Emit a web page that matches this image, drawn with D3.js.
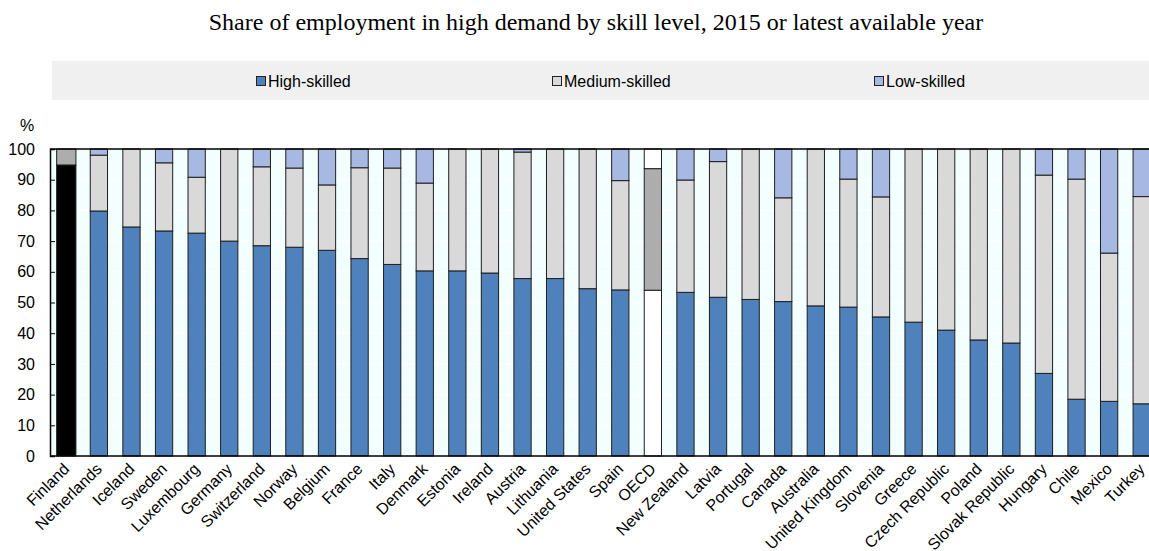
<!DOCTYPE html>
<html>
<head>
<meta charset="utf-8">
<title>Share of employment in high demand by skill level</title>
<script src="https://d3js.org/d3.v7.min.js"></script>
<style>
  body { margin: 0; background: #fff; }
  text { font-family: "Liberation Sans", Arial, sans-serif; }
</style>
</head>
<body>
<svg width="1149" height="551"></svg>
<script>
    const countries = ["Finland", "Netherlands", "Iceland", "Sweden", "Luxembourg", "Germany", "Switzerland",
        "Norway", "Belgium", "France", "Italy", "Denmark", "Estonia", "Ireland", "Austria", "Lithuania",
        "United States", "Spain", "OECD", "New Zealand", "Latvia", "Portugal", "Canada", "Australia",
        "United Kingdom", "Slovenia", "Greece", "Czech Republic", "Poland", "Slovak Republic", "Hungary",
        "Chile", "Mexico", "Turkey"];
    const highSkilled = [94.8, 79.8, 74.6, 73.3, 72.6, 70.0, 68.5, 68.0, 67.0, 64.3, 62.4, 60.3, 60.3, 59.6,
        57.8, 57.8, 54.5, 54.1, 54.0, 53.3, 51.7, 51.0, 50.3, 48.9, 48.5, 45.3, 43.6, 41.0, 37.8, 36.8,
        26.9, 18.5, 17.8, 17.0];
    const mediumSkilled = [5.2, 18.2, 25.4, 22.2, 18.2, 30.0, 25.7, 25.8, 21.3, 29.6, 31.4, 28.6, 39.7, 40.4,
        41.2, 42.2, 45.5, 35.6, 39.6, 36.6, 44.2, 49.0, 33.8, 51.1, 41.7, 39.1, 56.4, 59.0, 62.2, 63.2,
        64.6, 71.7, 48.3, 67.5];
    const lowSkilled = [0, 2.0, 0, 4.5, 9.2, 0, 5.8, 6.2, 11.7, 6.1, 6.2, 11.1, 0, 0, 1.0, 0, 0, 10.3, 6.4,
        10.1, 4.1, 0, 15.9, 0, 9.8, 15.6, 0, 0, 0, 0, 8.5, 9.8, 33.9, 15.5];
    const seriesNames = ["High-skilled", "Medium-skilled", "Low-skilled"];
    const yTicks = [0, 10, 20, 30, 40, 50, 60, 70, 80, 90, 100];

    const colors = {"High-skilled": "#4f81bd", "Medium-skilled": "#d9d9d9", "Low-skilled": "#a7b9e3"};
    // Finland and OECD get their own fills
    const special = {
        "Finland": {"High-skilled": "#000000", "Medium-skilled": "#adadad", "Low-skilled": "#ffffff"},
        "OECD": {"High-skilled": "#ffffff", "Medium-skilled": "#adadad", "Low-skilled": "#ffffff"}
    };

    const rows = countries.map((c, i) => ({
        country: c,
        "High-skilled": highSkilled[i],
        "Medium-skilled": mediumSkilled[i],
        "Low-skilled": lowSkilled[i]
    }));

    const svg = d3.select("svg");
    const plotLeft = 50, plotRight = 1158, plotTop = 149, plotBottom = 456;

    const x = d3.scaleBand()
        .domain(countries)
        .range([plotLeft, plotRight])
        .paddingInner(0.47)
        .paddingOuter(0.235);

    const y = d3.scaleLinear()
        .domain([0, 100])
        .range([plotBottom, plotTop]);

    // title
    svg.append("text")
        .attr("x", 596)
        .attr("y", 30)
        .attr("text-anchor", "middle")
        .style("font-family", "'Liberation Serif', 'Times New Roman', serif")
        .style("font-size", "24px")
        .text("Share of employment in high demand by skill level, 2015 or latest available year");

    // legend box
    svg.append("rect")
        .attr("x", 52).attr("y", 61)
        .attr("width", 1097).attr("height", 39)
        .attr("fill", "#f0f0f0");

    const legendX = [256, 552, 874];
    const legend = svg.selectAll(".legend")
        .data(seriesNames)
        .enter().append("g")
        .attr("class", "legend")
        .attr("transform", (d, i) => "translate(" + legendX[i] + ",76)");
    legend.append("rect")
        .attr("x", 0.5).attr("y", 0.5)
        .attr("width", 9).attr("height", 9)
        .attr("fill", d => colors[d])
        .attr("stroke", "#222");
    legend.append("text")
        .attr("x", 12)
        .attr("y", 11)
        .style("font-size", "16px")
        .text(d => d);

    // plot background + grid
    svg.append("rect")
        .attr("x", plotLeft).attr("y", plotTop)
        .attr("width", 1149 - plotLeft).attr("height", plotBottom - plotTop)
        .attr("fill", "#f3ffff");

    svg.selectAll(".grid")
        .data(yTicks.slice(1, -1))
        .enter().append("line")
        .attr("x1", plotLeft).attr("x2", 1149)
        .attr("y1", d => y(d)).attr("y2", d => y(d))
        .attr("stroke", "#ffffff")
        .attr("stroke-width", 1);

    // bars (Finland drawn a touch wider, as in the source)
    const stacked = d3.stack().keys(seriesNames)(rows);
    const extra = c => c === "Finland" ? 1 : 0;

    const layers = svg.selectAll(".layer")
        .data(stacked)
        .enter().append("g")
        .attr("class", "layer");

    layers.selectAll("rect")
        .data(d => d.map(p => Object.assign(p, {key: d.key})).filter(p => p[1] - p[0] > 0))
        .enter().append("rect")
        .attr("x", d => x(d.data.country) - extra(d.data.country))
        .attr("width", d => x.bandwidth() + 2 * extra(d.data.country))
        .attr("y", d => y(d[1]))
        .attr("height", d => y(d[0]) - y(d[1]))
        .attr("fill", d => special[d.data.country] ? special[d.data.country][d.key] : colors[d.key])
        .attr("stroke", "#1e1e1e")
        .attr("stroke-width", 1);

    // top border
    svg.append("line")
        .attr("x1", plotLeft).attr("x2", 1149)
        .attr("y1", plotTop).attr("y2", plotTop)
        .attr("stroke", "#000").attr("stroke-width", 1.5);

    // y axis
    const yAxis = svg.append("g")
        .attr("transform", "translate(" + plotLeft + ",0)")
        .call(d3.axisRight(y).tickValues(yTicks).tickSize(5).tickFormat(d3.format("d")));
    yAxis.select(".domain").attr("stroke", "#000").attr("stroke-width", 1.5);
    yAxis.selectAll(".tick line").attr("stroke", "#000");
    yAxis.selectAll(".tick text")
        .attr("x", -15)
        .attr("text-anchor", "end")
        .style("font-size", "16px")
        .style("font-family", "'Liberation Sans', Arial, sans-serif")
        .attr("fill", "#000");

    svg.append("text")
        .attr("x", 27).attr("y", 131)
        .attr("text-anchor", "middle")
        .style("font-size", "16px")
        .text("%");

    // x axis
    const xAxis = svg.append("g")
        .attr("transform", "translate(0," + plotBottom + ")")
        .call(d3.axisBottom(x).tickSize(0));
    xAxis.select(".domain").remove();
    svg.append("line")
        .attr("x1", plotLeft).attr("x2", 1149)
        .attr("y1", plotBottom).attr("y2", plotBottom)
        .attr("stroke", "#000").attr("stroke-width", 1.5);
    xAxis.selectAll(".tick text")
        .attr("y", 0)
        .attr("dy", "0")
        .attr("text-anchor", "end")
        .attr("transform", "translate(4,14) rotate(-45)")
        .style("font-size", "16px")
        .style("font-family", "'Liberation Sans', Arial, sans-serif")
        .attr("fill", "#000");
</script>
</body>
</html>
